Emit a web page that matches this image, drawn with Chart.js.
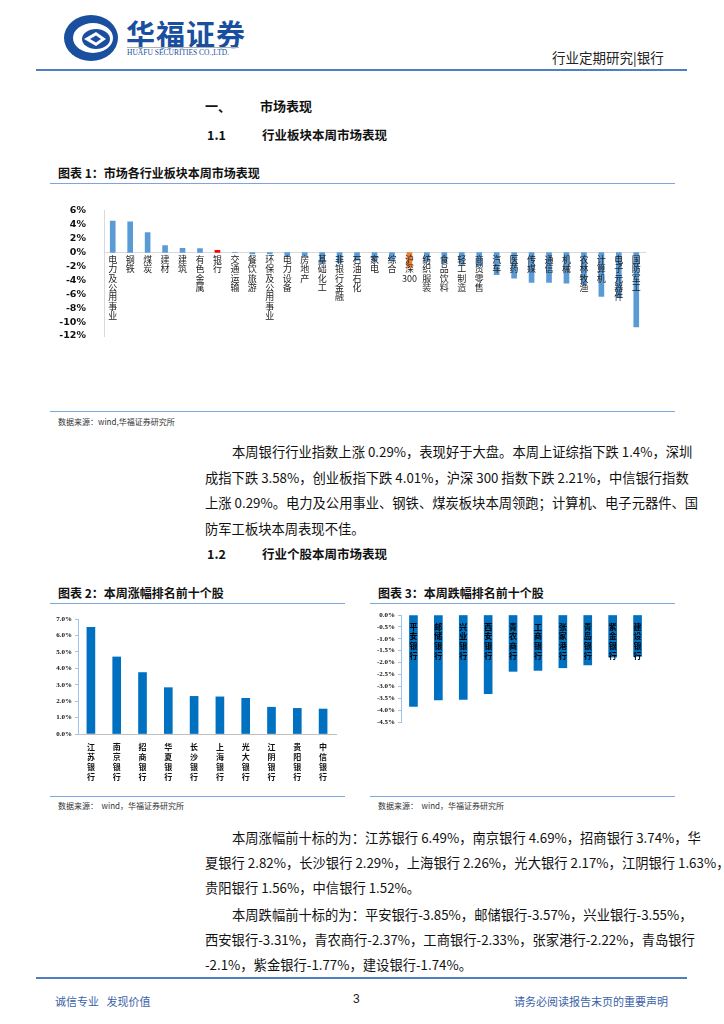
<!DOCTYPE html>
<html>
<head>
<meta charset="utf-8">
<script src="https://cdn.jsdelivr.net/npm/chart.js@4.4.1/dist/chart.umd.min.js"></script>
<style>
  body { margin: 0; background: #fff; font-family: "Noto Sans CJK SC", sans-serif; color: #111; }
  #page { position: relative; width: 724px; height: 1024px; overflow: hidden; }
  .abs { position: absolute; white-space: nowrap; }
  .hline { position: absolute; height: 0; }
  .ln { position: absolute; left: 205px; width: 468px; font-size: 13.3px; line-height: 20px; text-align: justify; text-align-last: justify; white-space: nowrap; }
  .ln.last { text-align-last: left; }
  .box { position: absolute; }
</style>
</head>
<body>
<div id="page">
  <!-- header -->
  <svg class="abs" style="left:62px;top:13px" width="58" height="50" viewBox="0 0 58 50">
    <ellipse cx="29" cy="25" rx="27" ry="23" fill="#1a4fa0"/>
    <ellipse cx="31" cy="25" rx="20" ry="15" fill="#fff"/>
    <ellipse cx="34" cy="26" rx="14" ry="10" fill="#1a4fa0"/>
    <path d="M22 26 L34 19 L44 26 L34 33 Z" fill="#fff"/>
    <path d="M28 26 L34 22.5 L39 26 L34 29.5 Z" fill="#1a4fa0"/>
  </svg>
  <div class="abs" style="left:126px;top:12px;font-size:29px;font-weight:bold;color:#1a4fa0;letter-spacing:1px;font-family:'Noto Sans CJK SC'">华福证券</div>
  <div class="hline" style="left:127px;top:47px;width:112px;border-top:1.5px solid #b0b0b0"></div>
  <div class="abs" style="left:127px;top:48px;font-size:7.5px;color:#1a4fa0;font-family:'Liberation Serif'">HUAFU SECURITIES CO.,LTD.</div>
  <div class="abs" style="left:552px;top:47px;font-size:13.5px;color:#222">行业定期研究|银行</div>
  <div class="hline" style="left:36px;top:69px;width:651px;border-top:2px solid #4f7fc0"></div>

  <div class="abs" style="left:205px;top:96px;font-size:13px;font-weight:bold">一、</div>
  <div class="abs" style="left:260px;top:96px;font-size:13px;font-weight:bold">市场表现</div>
  <div class="abs" style="left:207px;top:125px;font-size:12.5px;font-weight:bold">1.1</div>
  <div class="abs" style="left:262px;top:125px;font-size:12.5px;font-weight:bold">行业板块本周市场表现</div>

  <div class="abs" style="left:58px;top:164px;font-size:12px;font-weight:bold">图表 1：市场各行业板块本周市场表现</div>
  <div class="hline" style="left:50px;top:183px;width:625px;border-top:1.5px solid #7fa6dc"></div>
  <div class="box" style="left:55px;top:195px;width:600px;height:165px"><canvas id="c1" width="600" height="165"></canvas></div>
  <div class="hline" style="left:50px;top:411px;width:625px;border-top:1.5px solid #7fa6dc"></div>
  <div class="abs" style="left:58px;top:416px;font-size:8px;color:#333">数据来源：wind,华福证券研究所</div>

  <div class="ln" style="top:442px;text-indent:27px">本周银行行业指数上涨 0.29%，表现好于大盘。本周上证综指下跌 1.4%，深圳</div>
  <div class="ln" style="top:468px">成指下跌 3.58%，创业板指下跌 4.01%，沪深 300 指数下跌 2.21%，中信银行指数</div>
  <div class="ln" style="top:493px">上涨 0.29%。电力及公用事业、钢铁、煤炭板块本周领跑；计算机、电子元器件、国</div>
  <div class="ln last" style="top:519px">防军工板块本周表现不佳。</div>

  <div class="abs" style="left:207px;top:544px;font-size:12.5px;font-weight:bold">1.2</div>
  <div class="abs" style="left:262px;top:544px;font-size:12.5px;font-weight:bold">行业个股本周市场表现</div>

  <div class="abs" style="left:58px;top:584px;font-size:12px;font-weight:bold">图表 2：本周涨幅排名前十个股</div>
  <div class="abs" style="left:378px;top:584px;font-size:12px;font-weight:bold">图表 3：本周跌幅排名前十个股</div>
  <div class="hline" style="left:50px;top:603px;width:295px;border-top:1.5px solid #7fa6dc"></div>
  <div class="hline" style="left:370px;top:603px;width:305px;border-top:1.5px solid #7fa6dc"></div>
  <div class="box" style="left:40px;top:605px;width:300px;height:185px"><canvas id="c2" width="300" height="185"></canvas></div>
  <div class="box" style="left:360px;top:605px;width:300px;height:130px"><canvas id="c3" width="300" height="130"></canvas></div>
  <div class="hline" style="left:50px;top:796px;width:295px;border-top:1.5px solid #7fa6dc"></div>
  <div class="hline" style="left:370px;top:796px;width:305px;border-top:1.5px solid #7fa6dc"></div>
  <div class="abs" style="left:58px;top:800px;font-size:8px;color:#333">数据来源：&nbsp; wind，华福证券研究所</div>
  <div class="abs" style="left:378px;top:800px;font-size:8px;color:#333">数据来源：&nbsp; wind，华福证券研究所</div>

  <div class="ln" style="top:828px;text-indent:27px">本周涨幅前十标的为：江苏银行 6.49%，南京银行 4.69%，招商银行 3.74%，华</div>
  <div class="ln" style="top:853px">夏银行 2.82%，长沙银行 2.29%，上海银行 2.26%，光大银行 2.17%，江阴银行 1.63%，</div>
  <div class="ln last" style="top:878px">贵阳银行 1.56%，中信银行 1.52%。</div>
  <div class="ln" style="top:905px;text-indent:27px">本周跌幅前十标的为：平安银行-3.85%，邮储银行-3.57%，兴业银行-3.55%，</div>
  <div class="ln" style="top:930px">西安银行-3.31%，青农商行-2.37%，工商银行-2.33%，张家港行-2.22%，青岛银行</div>
  <div class="ln last" style="top:955px">-2.1%，紫金银行-1.77%，建设银行-1.74%。</div>

  <div class="hline" style="left:36px;top:977px;width:651px;border-top:2px solid #4f7fc0"></div>
  <div class="abs" style="left:55px;top:993px;font-size:11px;color:#3a62a8">诚信专业&nbsp;&nbsp; 发现价值</div>
  <div class="abs" style="left:353px;top:992px;font-size:12px;color:#222;font-family:'Liberation Sans'">3</div>
  <div class="abs" style="left:514px;top:993px;font-size:11px;color:#3a62a8">请务必阅读报告末页的重要声明</div>
</div>

<script>
// 图表1 行业板块
const sectors = ['电力及公用事业', '钢铁', '煤炭', '建材', '建筑', '有色金属', '银行', '交通运输',
    '餐饮旅游', '环保及公用事业', '电力设备', '房地产', '基础化工', '非银行金融', '石油石化', '家电',
    '综合', '沪深300', '纺织服装', '食品饮料', '轻工制造', '商贸零售', '汽车', '医药', '传媒', '通信',
    '机械', '农林牧渔', '计算机', '电子元器件', '国防军工'];
const sectorReturns = [4.5, 4.4, 2.85, 1.0, 0.6, 0.55, 0.29, -0.03, -0.2, -0.2, -0.5, -0.5, -1.5,
    -1.5, -1.1, -1.2, -1.2, -2.21, -1.3, -1.5, -1.7, -1.9, -3.2, -3.7, -4.3, -4.3, -4.4, -4.6,
    -6.3, -6.5, -10.7];
const sectorTicks = [6, 4, 2, 0, -2, -4, -6, -8, -10, -12];

// 图表2 涨幅前十
const gainers = ['江苏银行', '南京银行', '招商银行', '华夏银行', '长沙银行', '上海银行', '光大银行', '江阴银行', '贵阳银行', '中信银行'];
const gainerReturns = [6.49, 4.69, 3.74, 2.82, 2.29, 2.26, 2.17, 1.63, 1.56, 1.52];

// 图表3 跌幅前十
const losers = ['平安银行', '邮储银行', '兴业银行', '西安银行', '青农商行', '工商银行', '张家港行', '青岛银行', '紫金银行', '建设银行'];
const loserReturns = [-3.85, -3.57, -3.55, -3.31, -2.37, -2.33, -2.22, -2.1, -1.77, -1.74];

function vertical(label) {
    if (label === '沪深300') return ['沪', '深', '300'];
    return label.split('');
}

function fixWidth(w) {
    return function(scale) { scale.width = w; };
}

const barColors = sectors.map(s => s === '银行' ? '#ff0000' : s === '沪深300' ? '#ed7d31' : '#5b9bd5');

new Chart(document.getElementById('c1'), {
    type: 'bar',
    data: {
        labels: sectors.map(vertical),
        datasets: [{
            data: sectorReturns,
            backgroundColor: barColors,
            barThickness: 5
        }]
    },
    options: {
        responsive: false,
        animation: false,
        layout: { padding: { top: 15, right: 10, bottom: 24, left: 0 } },
        plugins: { legend: { display: false }, tooltip: { enabled: false } },
        scales: {
            x: {
                position: { y: 0 },
                grid: { display: false, drawTicks: false },
                border: { display: true, color: '#d9d9d9' },
                ticks: {
                    z: 1,
                    autoSkip: false,
                    maxRotation: 0,
                    padding: 2,
                    color: '#222',
                    font: { family: 'Noto Sans CJK SC', size: 9, lineHeight: 1.05 }
                }
            },
            y: {
                min: -12,
                max: 6,
                afterFit: fixWidth(49),
                afterBuildTicks: s => { s.ticks = sectorTicks.map(v => ({ value: v })); },
                grid: { display: false },
                border: { display: true, color: '#d9d9d9' },
                ticks: {
                    autoSkip: false,
                    padding: 10,
                    color: '#111',
                    font: { family: 'DejaVu Sans', size: 9.5, weight: 'bold' },
                    callback: v => v + '%'
                }
            }
        }
    }
});

new Chart(document.getElementById('c2'), {
    type: 'bar',
    data: {
        labels: gainers.map(vertical),
        datasets: [{
            data: gainerReturns,
            backgroundColor: '#0070c0',
            barThickness: 8
        }]
    },
    options: {
        responsive: false,
        animation: false,
        layout: { padding: { top: 14, right: 4, bottom: 56, left: 0 } },
        plugins: { legend: { display: false }, tooltip: { enabled: false } },
        scales: {
            x: {
                position: { y: 0 },
                grid: { display: false, drawTicks: false },
                border: { display: true, color: '#bfbfbf' },
                ticks: {
                    autoSkip: false,
                    maxRotation: 0,
                    padding: 8,
                    color: '#111',
                    font: { family: 'Noto Sans CJK SC', size: 8, weight: 'bold', lineHeight: 1.25 }
                }
            },
            y: {
                min: 0,
                max: 7,
                afterFit: fixWidth(38),
                grid: { display: true, drawOnChartArea: false, tickLength: 3, color: '#9dc3e6' },
                border: { display: true, color: '#9dc3e6' },
                ticks: {
                    autoSkip: false,
                    stepSize: 1,
                    padding: 3,
                    color: '#111',
                    font: { family: 'Liberation Serif', size: 7, weight: 'bold' },
                    callback: v => v.toFixed(1) + '%'
                }
            }
        }
    }
});

new Chart(document.getElementById('c3'), {
    type: 'bar',
    data: {
        labels: losers.map(vertical),
        datasets: [{
            data: loserReturns,
            backgroundColor: '#0070c0',
            barThickness: 8
        }]
    },
    options: {
        responsive: false,
        animation: false,
        layout: { padding: { top: 10, right: 10, bottom: 13, left: 0 } },
        plugins: { legend: { display: false }, tooltip: { enabled: false } },
        scales: {
            x: {
                position: { y: 0 },
                grid: { display: false, drawTicks: false },
                border: { display: false },
                ticks: {
                    z: 1,
                    autoSkip: false,
                    maxRotation: 0,
                    padding: 7,
                    color: '#000',
                    font: { family: 'Noto Sans CJK SC', size: 8, weight: 'bold', lineHeight: 1.2 }
                }
            },
            y: {
                min: -4.5,
                max: 0,
                afterFit: fixWidth(41),
                grid: { display: true, drawOnChartArea: false, tickLength: 3, color: '#9dc3e6' },
                border: { display: true, color: '#9dc3e6' },
                ticks: {
                    autoSkip: false,
                    stepSize: 0.5,
                    padding: 3,
                    color: '#111',
                    font: { family: 'Liberation Serif', size: 7, weight: 'bold' },
                    callback: v => v.toFixed(1) + '%'
                }
            }
        }
    }
});
</script>
</body>
</html>
